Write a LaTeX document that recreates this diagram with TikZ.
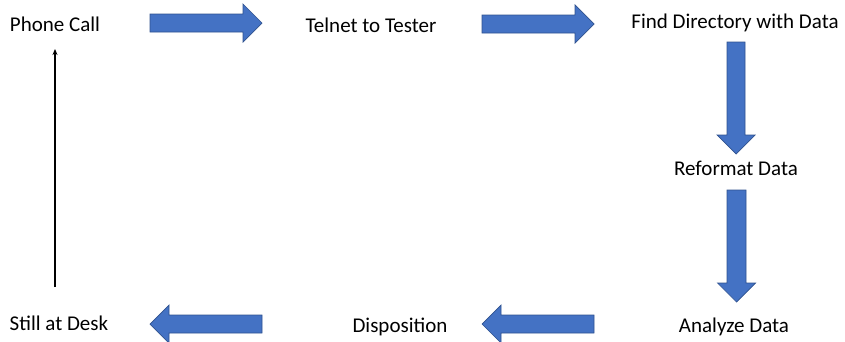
\documentclass[tikz,border=0pt]{standalone}
\usepackage{fontspec}
\setmainfont{Carlito}
\usetikzlibrary{arrows.meta}
\begin{document}
\begin{tikzpicture}[x=1pt,y=-1pt,
  step label/.style={font=\fontsize{21}{25}\selectfont, inner sep=0pt, anchor=base},
  blockarrow/.style={fill=arrowblue, draw=arrowedge, line width=0.7pt, line join=miter}]
\definecolor{arrowblue}{HTML}{4472C4}
\definecolor{arrowedge}{HTML}{2F528F}
\useasboundingbox (0,0) rectangle (845,341);

% process steps
\node[step label] (call)    at (55,31)  {Phone Call};
\node[step label] (telnet)  at (371,32) {Telnet to Tester};
\node[step label] (find)    at (735,28) {Find Directory with Data};
\node[step label] (reform)  at (736,175) {Reformat Data};
\node[step label] (analyze) at (734,332) {Analyze Data};
\node[step label] (dispo)   at (400,332) {Disposition};
\node[step label] (desk)    at (59,330) {Still at Desk};

% block arrows between the steps
\draw[blockarrow] (150,14) -- (243,14) -- (243,4) -- (262,23) -- (243,42) -- (243,32) -- (150,32) -- cycle;
\draw[blockarrow] (482,15) -- (575,15) -- (575,5) -- (594,24) -- (575,43) -- (575,33) -- (482,33) -- cycle;
\draw[blockarrow] (727,42) -- (745,42) -- (745,135) -- (755,135) -- (736,154) -- (717,135) -- (727,135) -- cycle;
\draw[blockarrow] (727,190) -- (746,190) -- (746,283) -- (755.5,283) -- (736.5,302) -- (717.5,283) -- (727,283) -- cycle;
\draw[blockarrow] (594,315) -- (501,315) -- (501,305) -- (482,324) -- (501,343) -- (501,333) -- (594,333) -- cycle;
\draw[blockarrow] (262,315) -- (169,315) -- (169,305) -- (150,324) -- (169,343) -- (169,333) -- (262,333) -- cycle;

% return line back to the start
\coordinate (retfoot) at (55,287);
\coordinate (rettip) at (55,49);
\draw[-{Stealth[length=6pt,width=5pt]}, line width=1.2pt] (retfoot) -- (rettip);
\end{tikzpicture}
\end{document}
